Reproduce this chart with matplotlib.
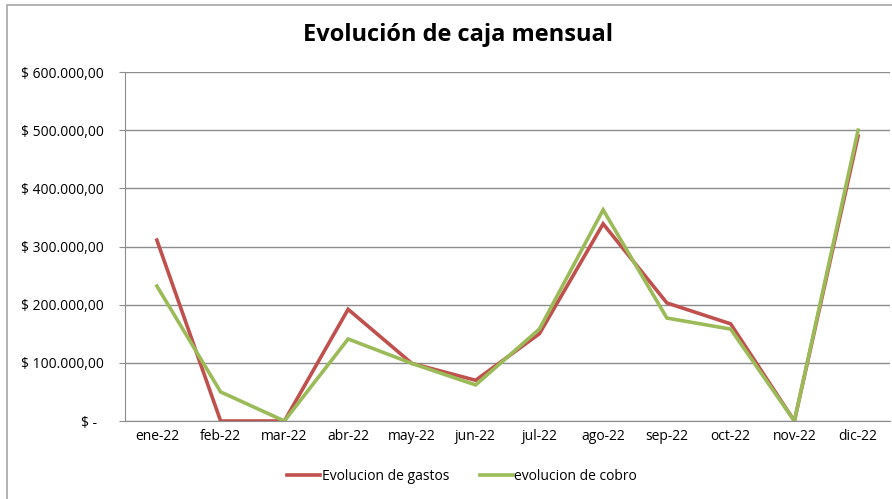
import matplotlib.pyplot as plt
from matplotlib.patches import Rectangle

plt.rcParams['font.family'] = ['Open Sans', 'DejaVu Sans']

# Data
meses = ["ene-22", "feb-22", "mar-22", "abr-22", "may-22", "jun-22",
         "jul-22", "ago-22", "sep-22", "oct-22", "nov-22", "dic-22"]
gastos = [311000, 0, 0, 192000, 99000, 70000, 150000, 339000, 203000, 167000, 0, 490000]
cobro = [232000, 50000, 0, 141000, 99000, 62000, 158000, 363000, 177000, 158000, 0, 500000]
y_ticks = [0, 100000, 200000, 300000, 400000, 500000, 600000]

def fmt(v):
    if v == 0:
        return "$ -  "
    s = f"{v:,.2f}".replace(",", "X").replace(".", ",").replace("X", ".")
    return "$ " + s

fig = plt.figure(figsize=(8.92, 4.99), dpi=100)
W, H = 892, 499
ax = fig.add_axes([125 / W, 1 - 421 / H, (890 - 125) / W, (421 - 72) / H])

x = list(range(len(meses)))
ax.plot(x, gastos, color="#c0504d", lw=2.6, label="Evolucion de gastos", solid_joinstyle="miter")
ax.plot(x, cobro, color="#9bbb59", lw=2.6, label="evolucion de cobro", solid_joinstyle="miter")

ax.set_xlim(-0.5, len(meses) - 0.5)
ax.set_ylim(0, 600000)
ax.set_yticks(y_ticks)
ax.set_yticklabels([fmt(v) for v in y_ticks], fontsize=10)
ax.set_xticks(x)
ax.set_xticklabels(meses, fontsize=10)
ax.yaxis.grid(True, color="#8c8c8c", lw=1)
ax.set_axisbelow(True)
for s in ["top", "right"]:
    ax.spines[s].set_visible(False)
for s in ["left", "bottom"]:
    ax.spines[s].set_color("#8c8c8c")
ax.tick_params(axis="y", length=4, color="#8c8c8c", pad=11)
ax.tick_params(axis="x", length=0, pad=6)

fig.text(458 / W, 1 - 35 / H, "Evolución de caja mensual", ha="center", va="center",
         fontsize=17, fontweight="bold")

fig.legend(loc="center", bbox_to_anchor=(462 / W, 1 - 476 / H), ncol=2, frameon=False,
           fontsize=10, handlelength=2.4, handletextpad=0.1, columnspacing=2.2)

fig.patches.append(Rectangle((7 / W, -0.1), 2, 1 - 5 / H + 0.1, transform=fig.transFigure,
                             fill=False, edgecolor="#a6a6a6", lw=1.2))

fig.savefig("out.png", dpi=100)
